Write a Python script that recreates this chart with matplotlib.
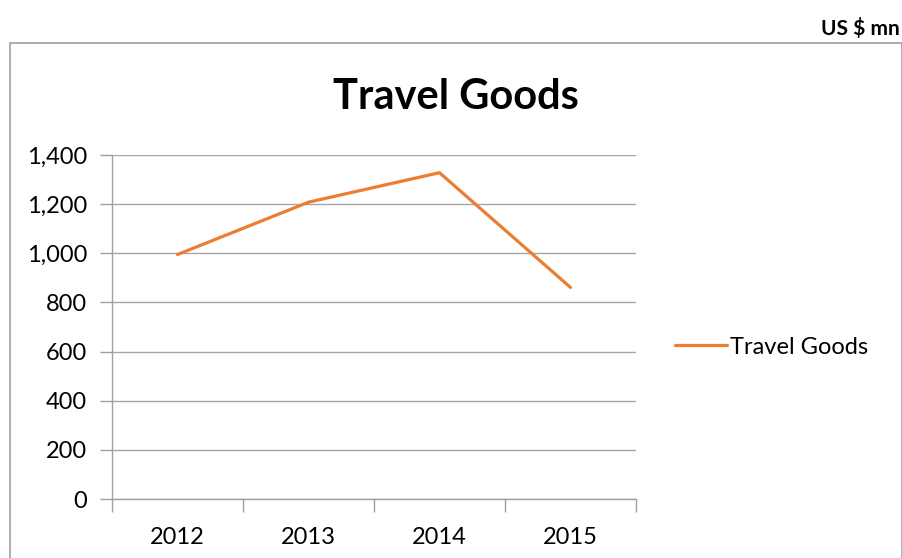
import numpy as np
import matplotlib
matplotlib.use('Agg')
import matplotlib.pyplot as plt
import matplotlib.patches as patches

# Chart data.
years = ['2012', '2013', '2014', '2015']
travel_goods = [995, 1208, 1328, 861]
y_ticks = [0, 200, 400, 600, 800, 1000, 1200, 1400]

plt.rcParams['font.family'] = ['Lato', 'DejaVu Sans']

W, H = 903, 558
fig = plt.figure(figsize=(W / 100, H / 100), dpi=100)

# Chart frame.
frame = patches.Rectangle((10 / W, -0.01), (902 - 10) / W, 1 - 43 / H + 0.01,
                          transform=fig.transFigure, fill=False,
                          edgecolor='#a0a0a0', linewidth=1.2)
fig.patches.append(frame)

fig.text(900 / W, 1 - 29 / H, 'US $ mn', ha='right', va='center',
         fontsize=15, fontweight='bold')
fig.text(456 / W, 1 - 97 / H, 'Travel Goods', ha='center', va='center',
         fontsize=30, fontweight='bold')

ax = fig.add_axes([112 / W, 1 - 499 / H, (636 - 112) / W, (499 - 155) / H])
x = np.arange(len(years))
ax.plot(x, travel_goods, color='#ed7d31', linewidth=2.3,
        solid_capstyle='round', label='Travel Goods')

ax.set_xlim(-0.5, len(years) - 0.5)
ax.set_ylim(0, 1400)
ax.set_yticks(y_ticks)
ax.set_yticklabels(['{:,}'.format(v) for v in y_ticks], fontsize=17)
ax.set_xticks(x)
ax.set_xticklabels(years, fontsize=17)
ax.set_xticks(np.arange(len(years) + 1) - 0.5, minor=True)
ax.tick_params(axis='x', which='major', length=0, pad=20)
ax.tick_params(axis='x', which='minor', length=9, color='#a0a0a0', width=1)
ax.tick_params(axis='y', length=9, color='#a0a0a0', width=1, pad=9)

ax.grid(axis='y', color='#a6a6a6', linewidth=1)
ax.set_axisbelow(True)
for side in ['top', 'right']:
    ax.spines[side].set_visible(False)
for side in ['left', 'bottom']:
    ax.spines[side].set_color('#a0a0a0')
    ax.spines[side].set_linewidth(1)

ax.legend(loc='center left', bbox_to_anchor=(654 / W, 1 - 347 / H),
          bbox_transform=fig.transFigure, frameon=False, fontsize=17,
          handlelength=2.2, handletextpad=0.1)

fig.savefig('out.png', dpi=100)
